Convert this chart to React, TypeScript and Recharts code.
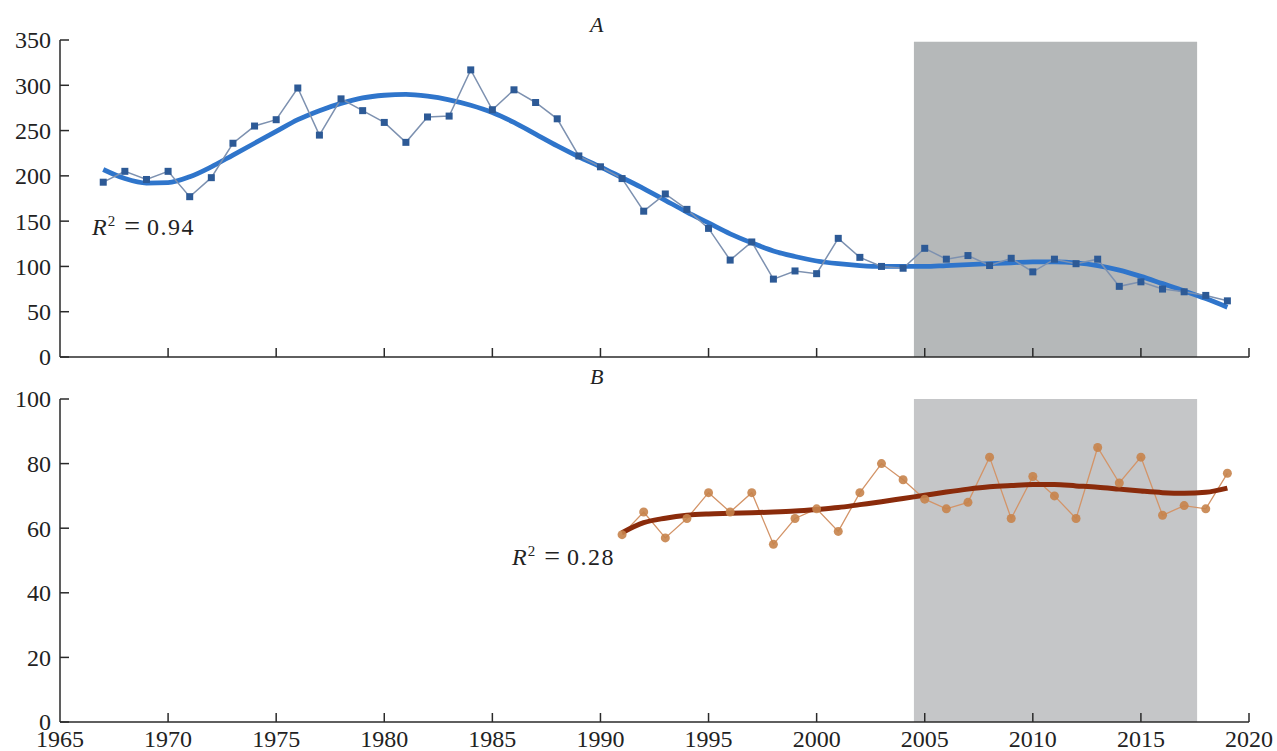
import React from 'react';
import { ComposedChart, Line, XAxis, YAxis, ReferenceArea } from 'recharts';

const yearsA = [1967,1968,1969,1970,1971,1972,1973,1974,1975,1976,1977,1978,1979,1980,1981,1982,1983,1984,1985,1986,1987,1988,1989,1990,1991,1992,1993,1994,1995,1996,1997,1998,1999,2000,2001,2002,2003,2004,2005,2006,2007,2008,2009,2010,2011,2012,2013,2014,2015,2016,2017,2018,2019];
const valuesA = [193,205,196,205,177,198,236,255,262,297,245,285,272,259,237,265,266,317,273,295,281,263,222,210,197,161,180,163,142,107,127,86,95,92,131,110,100,98,120,108,112,101,109,94,108,103,108,78,83,75,72,68,62];
const trendA = [207,197,192,192.5,199,210,223,236,249,262,272,280,286,289,290,288,284,278,270,259,246,233,221,210,198,186,173,160,148,136,126,117,111,106,103,101,100,100,100,101,102,103,104,105,105,104,101,96,89,81,73,64.5,55];

const yearsB = [1991,1992,1993,1994,1995,1996,1997,1998,1999,2000,2001,2002,2003,2004,2005,2006,2007,2008,2009,2010,2011,2012,2013,2014,2015,2016,2017,2018,2019];
const valuesB = [58,65,57,63,71,65,71,55,63,66,59,71,80,75,69,66,68,82,63,76,70,63,85,74,82,64,67,66,77];
const trendB = [58.6,61.7,63.1,64,64.4,64.6,64.8,65,65.3,65.8,66.4,67.3,68.2,69.2,70.2,71.2,72.1,72.8,73.2,73.5,73.5,73.1,72.7,72.1,71.5,71,70.8,71.1,72.4];

const xTicks = [1965,1970,1975,1980,1985,1990,1995,2000,2005,2010,2015,2020];
const yTicksA = [0,50,100,150,200,250,300,350];
const yTicksB = [0,20,40,60,80,100];
const shadeFrom = 2004.5;
const shadeTo = 2017.6;

const dataA = yearsA.map((y, i) => ({ year: y, v: valuesA[i], t: trendA[i] }));
const dataB = yearsB.map((y, i) => ({ year: y, v: valuesB[i], t: trendB[i] }));

const FONT = "'Liberation Serif', Tinos, 'Nimbus Roman', 'DejaVu Serif', serif";
const AX = '#2a2a2a';

const makeXTick = (labels: boolean) => (props: any) => {
  const { x, y, payload } = props;
  return (
    <g>
      {payload.value !== 1965 && <line x1={x} y1={y} x2={x} y2={y - 9} stroke={AX} strokeWidth={1.5} />}
      {labels && (
        <text x={x} y={y + 25} textAnchor="middle" fontSize={24} style={{ fontFamily: FONT }} fill="#222">
          {payload.value}
        </text>
      )}
    </g>
  );
};

const YTick = (props: any) => {
  const { x, y, payload } = props;
  return (
    <g>
      <line x1={x} y1={y} x2={x + 9} y2={y} stroke={AX} strokeWidth={1.5} />
      <text x={x - 9} y={y} dy="0.35em" textAnchor="end" fontSize={24} style={{ fontFamily: FONT }} fill="#222">
        {payload.value}
      </text>
    </g>
  );
};

const SquareDot = (p: any) => {
  if (p.cx == null || p.cy == null) return <g key={p.index} />;
  return <rect key={p.index} x={p.cx - 3.5} y={p.cy - 3.5} width={7} height={7} fill="#2d5a96" />;
};

const CircleDot = (p: any) => {
  if (p.cx == null || p.cy == null) return <g key={p.index} />;
  return <circle key={p.index} cx={p.cx} cy={p.cy} r={4.5} fill="#c7834b" fillOpacity={0.9} />;
};

const textStyle: React.CSSProperties = {
  position: 'absolute',
  fontFamily: FONT,
  color: '#222',
  whiteSpace: 'nowrap',
  lineHeight: 1,
};

const RLabel = ({ left, top, value }: { left: number; top: number; value: string }) => (
  <div style={{ ...textStyle, left, top, fontSize: 24 }}>
    <i>R</i>
    <sup style={{ fontSize: 15, verticalAlign: 9, marginLeft: 1 }}>2</sup>
    <span style={{ fontSize: 28, margin: '0 7px 0 9px', lineHeight: 1 }}>=</span>
    <span style={{ letterSpacing: 1.5 }}>{value}</span>
  </div>
);

export default function App() {
  return (
    <div style={{ position: 'absolute', left: 0, top: 0, width: 1277, height: 751, background: '#fff', overflow: 'hidden', fontFamily: FONT }}>
      <div style={{ position: 'absolute', left: 0, top: 0 }}>
        <ComposedChart width={1277} height={380} data={dataA} margin={{ top: 40, right: 28, bottom: 0, left: 0 }}>
          <ReferenceArea x1={shadeFrom} x2={shadeTo} y1={0} y2={348} fill="#b5b8b9" fillOpacity={1} stroke="none" />
          <XAxis
            dataKey="year"
            type="number"
            domain={[1965, 2020]}
            ticks={xTicks}
            interval={0}
            height={23}
            tickSize={0}
            tickMargin={0}
            tickLine={false}
            axisLine={{ stroke: AX, strokeWidth: 1.5 }}
            tick={makeXTick(false)}
          />
          <YAxis
            type="number"
            domain={[0, 350]}
            ticks={yTicksA}
            interval={0}
            width={60}
            tickSize={0}
            tickMargin={0}
            tickLine={false}
            axisLine={{ stroke: AX, strokeWidth: 1.5 }}
            tick={YTick}
          />
          <Line type="monotone" dataKey="t" stroke="#2f75cb" strokeWidth={4.8} dot={false} isAnimationActive={false} />
          <Line type="linear" dataKey="v" stroke="#7d91b0" strokeWidth={1.5} dot={SquareDot} isAnimationActive={false} />
        </ComposedChart>
      </div>
      <div style={{ position: 'absolute', left: 0, top: 380 }}>
        <ComposedChart width={1277} height={371} data={dataB} margin={{ top: 19, right: 28, bottom: 0, left: 0 }}>
          <ReferenceArea x1={shadeFrom} x2={shadeTo} y1={0} y2={100} fill="#c5c6c8" fillOpacity={1} stroke="none" />
          <XAxis
            dataKey="year"
            type="number"
            domain={[1965, 2020]}
            ticks={xTicks}
            interval={0}
            height={29}
            tickSize={0}
            tickMargin={0}
            tickLine={false}
            axisLine={{ stroke: AX, strokeWidth: 1.5 }}
            tick={makeXTick(true)}
          />
          <YAxis
            type="number"
            domain={[0, 100]}
            ticks={yTicksB}
            interval={0}
            width={60}
            tickSize={0}
            tickMargin={0}
            tickLine={false}
            axisLine={{ stroke: AX, strokeWidth: 1.5 }}
            tick={YTick}
          />
          <Line type="linear" dataKey="v" stroke="#d39468" strokeWidth={1.3} dot={CircleDot} isAnimationActive={false} />
          <Line type="monotone" dataKey="t" stroke="#8a2b0b" strokeWidth={5} dot={false} isAnimationActive={false} />
        </ComposedChart>
      </div>
      <div style={{ ...textStyle, left: 590, top: 14, fontSize: 22, fontStyle: 'italic' }}>A</div>
      <div style={{ ...textStyle, left: 590, top: 366, fontSize: 22, fontStyle: 'italic' }}>B</div>
      <RLabel left={92} top={212} value="0.94" />
      <RLabel left={512} top={542} value="0.28" />
    </div>
  );
}
